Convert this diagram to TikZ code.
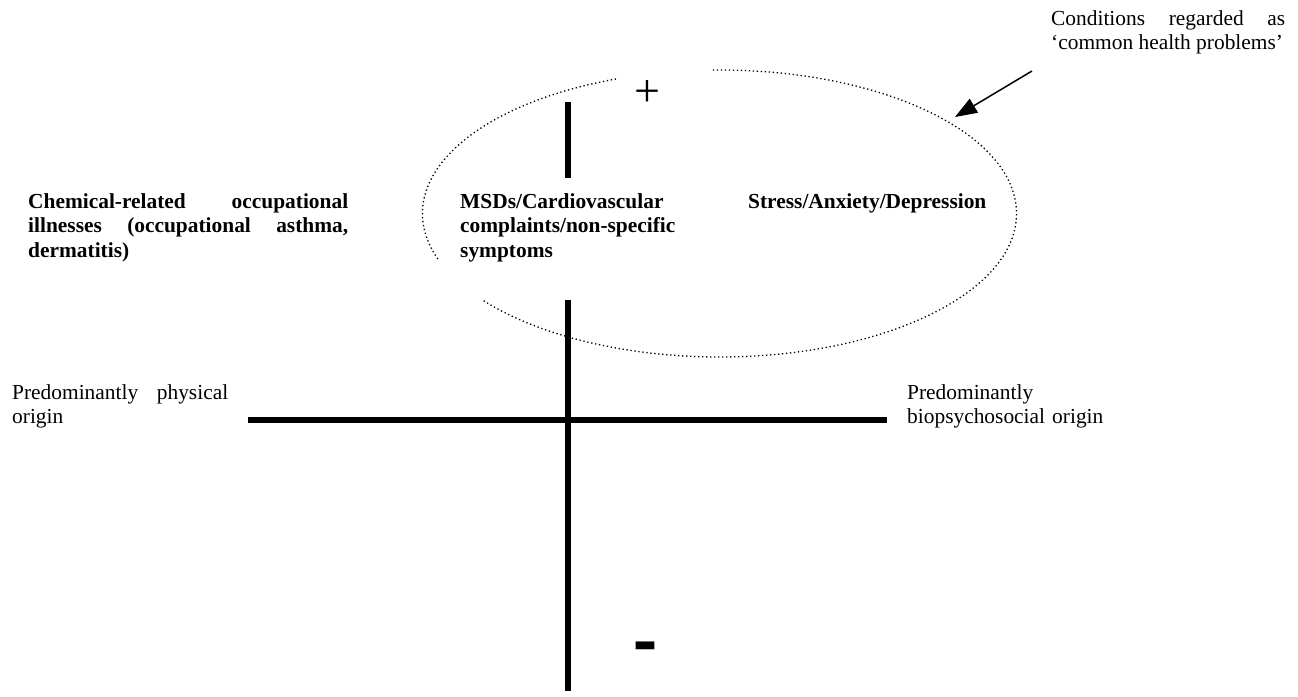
\documentclass[tikz,border=0pt]{standalone}
\usepackage{fontspec}
\setmainfont{Liberation Serif}
\usetikzlibrary{arrows.meta}
\begin{document}
\hyphenpenalty=10000
\exhyphenpenalty=10000
\tolerance=10000
\begin{tikzpicture}[x=1pt,y=-1pt,
  txt/.style={inner sep=0pt, anchor=base west, font=\fontsize{21.4}{24.6}\selectfont},
  btxt/.style={txt, font=\fontsize{21.4}{24.6}\selectfont\bfseries},
  axis/.style={line width=6pt},
  dots/.style={line width=1.3pt, dash pattern=on 1.3pt off 2.7pt}
]
\useasboundingbox (0,0) rectangle (1298,696);

% vertical axis, interrupted around the middle label
\coordinate (vtop) at (568,102);
\coordinate (vgapa) at (568,178);
\coordinate (vgapb) at (568,300);
\coordinate (vbot) at (568,691);
\draw[axis] (vtop) -- (vgapa);
\draw[axis] (vgapb) -- (vbot);

% horizontal axis
\coordinate (hl) at (248,419.5);
\coordinate (hr) at (887,419.5);
\draw[axis] (hl) -- (hr);

% poles of the vertical axis
\node[inner sep=0pt, font=\fontsize{46}{46}\selectfont] (plus) at (647,94) {+};
\node[inner sep=0pt, font=\fontsize{40}{40}\selectfont\bfseries] (minus) at (645,654.5) {\scalebox{1.8}[2.3]{-}};

% dotted ellipse with its gaps (y axis points down, so angles run clockwise)
\coordinate (ec) at (719.5,213.5);
\draw[dots] (ec) ++(-91.3:297 and 143.5) arc[start angle=-91.3, end angle=143, x radius=297, y radius=143.5];
\draw[dots] (ec) ++(-110.4:297 and 143.5) arc[start angle=-110.4, end angle=-198.9, x radius=297, y radius=143.5];

% labels
\node[btxt, text width=320pt, align=justify] (chem) at (28,208)
  {Chemical-related occupational illnesses (occupational asthma, dermatitis)};
\node[btxt, text width=250pt, align=left] (msd) at (460,208)
  {MSDs/Cardiovascular\\complaints/non-specific\\symptoms};
\node[btxt] (stress) at (748,208) {Stress/Anxiety/Depression};
\node[txt, text width=216pt, align=justify] (phys) at (12,399)
  {Predominantly physical origin};
\node[txt, text width=250pt, align=left] (bio) at (907,399)
  {Predominantly\\biopsychosocial origin};
\node[txt, text width=234pt, align=justify] (chp) at (1051,25)
  {Conditions regarded as ‘common health problems’};

% pointer to the ellipse
\coordinate (cfrom) at (1032,71);
\coordinate (ctip) at (955,117);
\draw[line width=1.5pt, -{Triangle[length=22pt,width=16pt]}] (cfrom) -- (ctip);
\end{tikzpicture}
\end{document}
